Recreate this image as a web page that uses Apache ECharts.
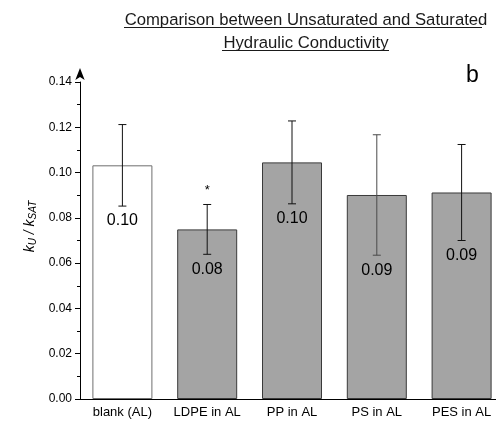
<!DOCTYPE html>
<html>
<head>
<meta charset="utf-8">
<script src="https://cdn.jsdelivr.net/npm/echarts@6/dist/echarts.min.js"></script>
<style>
  html, body { margin: 0; padding: 0; background: #fff; }
  #chart { width: 496px; height: 426px; }
</style>
</head>
<body>
<div id="chart"></div>
<script>
// Data
const categories = ['blank (AL)', 'LDPE in AL', 'PP in AL', 'PS in AL', 'PES in AL'];
const ratioMean = [0.1032, 0.0749, 0.1045, 0.0901, 0.0912];
const ratioErr = [0.0180, 0.0110, 0.0183, 0.0266, 0.0212];
const valueLabels = ['0.10', '0.08', '0.10', '0.09', '0.09'];
const significance = ['', '*', '', '', ''];
const yTicks = [0, 0.02, 0.04, 0.06, 0.08, 0.10, 0.12, 0.14];

const FONT = 'Liberation Sans, Arial, sans-serif';

let chart;

function setupChart() {
    chart = echarts.init(document.getElementById('chart'), null, { renderer: 'canvas' });

    const barData = ratioMean.map((v, i) => ({
        value: v,
        itemStyle: i === 0
            ? { color: '#ffffff', borderColor: '#6e6e6e', borderWidth: 1 }
            : { color: '#a4a4a4', borderColor: '#3a3a3a', borderWidth: 1 }
    }));

    const errData = ratioMean.map((v, i) => [i, v - ratioErr[i], v + ratioErr[i], i]);

    const option = {
        backgroundColor: '#ffffff',
        animation: false,
        title: {
            text: 'Comparison between Unsaturated and Saturated\nHydraulic Conductivity',
            left: 301,
            top: 4,
            textAlign: 'center',
            textStyle: { fontFamily: FONT, fontSize: 16.7, fontWeight: 'normal', color: '#1a1a1a', lineHeight: 23 }
        },
        graphic: [
            // underline of the title lines
            { type: 'line', shape: { x1: 124, y1: 27.5, x2: 482, y2: 27.5 }, style: { stroke: '#1a1a1a', lineWidth: 1 } },
            { type: 'line', shape: { x1: 222, y1: 50.5, x2: 389, y2: 50.5 }, style: { stroke: '#1a1a1a', lineWidth: 1 } },
            { type: 'text', left: 466, top: 64, style: { text: 'b', fontFamily: FONT, fontSize: 23, fill: '#000' } }
        ],
        grid: { left: 80, top: 82, bottom: 27, width: 424, containLabel: false, outerBoundsMode: 'none' },
        xAxis: {
            type: 'category',
            data: categories,
            boundaryGap: true,
            axisLine: { lineStyle: { color: '#000', width: 1 } },
            axisTick: { alignWithLabel: true, length: 4, lineStyle: { color: '#000' } },
            axisLabel: { interval: 0, margin: 7, fontFamily: FONT, fontSize: 13, color: '#000' }
        },
        yAxis: {
            type: 'value',
            min: yTicks[0],
            max: yTicks[yTicks.length - 1],
            interval: 0.02,
            name: '{k|k}{s|U}{k| / k}{s|SAT}',
            nameLocation: 'middle',
            nameRotate: 90,
            nameGap: 27,
            nameTextStyle: {
                padding: [0, 0, 0, 28],
                rich: {
                    k: { fontFamily: FONT, fontSize: 14, fontStyle: 'italic', color: '#000' },
                    s: { fontFamily: FONT, fontSize: 10, fontStyle: 'italic', color: '#000', padding: [6, 0, 0, 0] }
                }
            },
            axisLine: {
                show: true,
                symbol: ['none', 'arrow'],
                symbolSize: [7, 12],
                symbolOffset: [0, 14],
                lineStyle: { color: '#000', width: 1 }
            },
            axisTick: { show: true, length: 5, lineStyle: { color: '#000' } },
            minorTick: { show: true, splitNumber: 2, length: 3, lineStyle: { color: '#000' } },
            splitLine: { show: false },
            axisLabel: {
                margin: 8,
                fontFamily: FONT,
                fontSize: 12,
                color: '#000',
                formatter: v => v.toFixed(2)
            }
        },
        series: [
            {
                name: 'kU/kSAT',
                type: 'bar',
                data: barData,
                barWidth: 60,
                z: 2
            },
            {
                // error bars, value labels and significance marks
                type: 'custom',
                z: 3,
                data: errData,
                renderItem: function (params, api) {
                    const idx = api.value(3);
                    const low = api.coord([api.value(0), api.value(1)]);
                    const high = api.coord([api.value(0), api.value(2)]);
                    const cap = 4;
                    const style = { stroke: idx === 3 ? '#4a4a4a' : '#111', lineWidth: 1 };
                    const children = [
                        { type: 'line', shape: { x1: high[0], y1: high[1], x2: low[0], y2: low[1] }, style },
                        { type: 'line', shape: { x1: high[0] - cap, y1: high[1], x2: high[0] + cap, y2: high[1] }, style },
                        { type: 'line', shape: { x1: low[0] - cap, y1: low[1], x2: low[0] + cap, y2: low[1] }, style },
                        {
                            type: 'text',
                            style: {
                                text: valueLabels[idx], x: low[0], y: low[1] + 15,
                                align: 'center', verticalAlign: 'middle',
                                fontFamily: FONT, fontSize: 16, fill: '#000'
                            }
                        }
                    ];
                    if (significance[idx]) {
                        children.push({
                            type: 'text',
                            style: {
                                text: significance[idx], x: high[0], y: high[1] - 14,
                                align: 'center', verticalAlign: 'middle',
                                fontFamily: FONT, fontSize: 13, fill: '#000'
                            }
                        });
                    }
                    return { type: 'group', children };
                }
            }
        ]
    };

    chart.setOption(option);
}

window.addEventListener('resize', () => {
    chart?.resize();
});

document.addEventListener('DOMContentLoaded', setupChart);
</script>
</body>
</html>
